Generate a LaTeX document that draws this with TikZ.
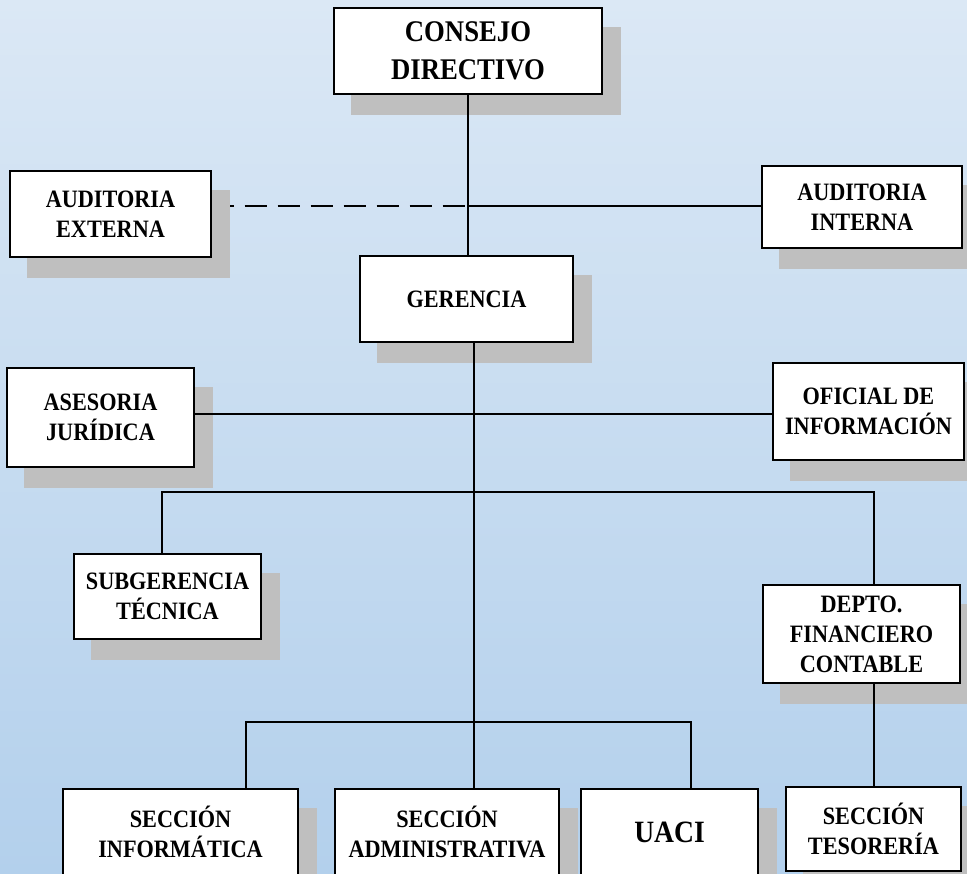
\documentclass[tikz,border=0pt]{standalone}
\usepackage{fontspec}
\newfontfamily\orgf{Liberation Serif}[FakeStretch=0.89]
\pgfdeclarelayer{backgr}
\pgfdeclarelayer{shadows}
\pgfsetlayers{backgr,shadows,main}
\definecolor{bgtop}{RGB}{219,232,245}
\definecolor{bgbot}{RGB}{179,208,236}
\definecolor{shadowc}{RGB}{191,191,191}
\tikzset{
  obox/.style={draw=black, line width=1.4pt, fill=white, inner sep=0pt, align=center,
    font=\orgf\bfseries\fontsize{25}{30}\selectfont},
  bigtxt/.style={font=\orgf\bfseries\fontsize{30}{38}\selectfont},
  uacitxt/.style={font=\orgf\bfseries\fontsize{31}{36}\selectfont},
  conn/.style={draw=black, line width=1.2pt},
  dconn/.style={draw=black, line width=1.2pt, dash pattern=on 22pt off 11pt},
}
\begin{document}
\begin{tikzpicture}[x=1pt,y=1pt]
\useasboundingbox (0,0) rectangle (967,-874);
\clip (0,0) rectangle (967,-874);
\begin{pgfonlayer}{backgr}
\shade[top color=bgtop, bottom color=bgbot] (0,0) rectangle (967,-874);
\end{pgfonlayer}

\node[obox, bigtxt, minimum width=268pt, minimum height=86pt] (consejo) at (468,-51) {CONSEJO\\DIRECTIVO};
\node[obox, minimum width=201pt, minimum height=86pt] (aext) at (110.5,-214) {AUDITORIA\\EXTERNA};
\node[obox, minimum width=200pt, minimum height=82pt] (aint) at (862,-207) {AUDITORIA\\INTERNA};
\node[obox, minimum width=213pt, minimum height=86pt] (ger) at (466.5,-299) {GERENCIA};
\node[obox, minimum width=187pt, minimum height=99pt] (ases) at (100.5,-417.5) {ASESORIA\\JURÍDICA};
\node[obox, minimum width=191pt, minimum height=97pt] (ofic) at (868.5,-411.5) {OFICIAL DE\\INFORMACIÓN};
\node[obox, minimum width=187pt, minimum height=85pt] (subg) at (167.5,-596.5) {SUBGERENCIA\\TÉCNICA};
\node[obox, minimum width=197pt, minimum height=98pt] (depto) at (861.5,-634) {DEPTO.\\FINANCIERO\\CONTABLE};
\node[obox, minimum width=235pt, minimum height=86pt] (sinf) at (180.5,-832) {SECCIÓN\\INFORMÁTICA};
\node[obox, minimum width=224pt, minimum height=86pt] (sadm) at (447,-832) {SECCIÓN\\ADMINISTRATIVA};
\node[obox, uacitxt, minimum width=177pt, minimum height=86pt] (uaci) at (669.5,-832) {UACI};
\node[obox, minimum width=175pt, minimum height=84pt] (stes) at (873.5,-829) {SECCIÓN\\TESORERÍA};

\begin{pgfonlayer}{shadows}
\foreach \n in {consejo,aext,aint,ger,ases,ofic,subg,depto,sinf,sadm,uaci,stes}
  \fill[shadowc] ([shift={(18pt,-20pt)}]\n.south west) rectangle ([shift={(18pt,-20pt)}]\n.north east);
\end{pgfonlayer}

\coordinate (j1) at (468,-206);
\coordinate (c1) at (474,-414);
\coordinate (c3) at (474,-722);
\coordinate (l2) at (162,-492);
\coordinate (r2) at (874,-492);
\coordinate (l3) at (246,-722);
\coordinate (r3) at (691,-722);

\begin{pgfonlayer}{backgr}
\draw[dconn] (aext.east |- j1) -- (j1);
\end{pgfonlayer}
\draw[conn] (consejo.south) -- (consejo.south |- ger.north);
\draw[conn] (j1) -- (j1 -| aint.west);
\draw[conn] (ger.south -| c1) -- (c1 |- sadm.north);
\draw[conn] (ases.east |- c1) -- (c1 -| ofic.west);
\draw[conn] (l2 |- subg.north) -- (l2) -- (r2) -- (r2 |- depto.north);
\draw[conn] (r2 |- depto.south) -- (r2 |- stes.north);
\draw[conn] (l3 |- sinf.north) -- (l3) -- (r3) -- (r3 |- uaci.north);
\end{tikzpicture}
\end{document}
